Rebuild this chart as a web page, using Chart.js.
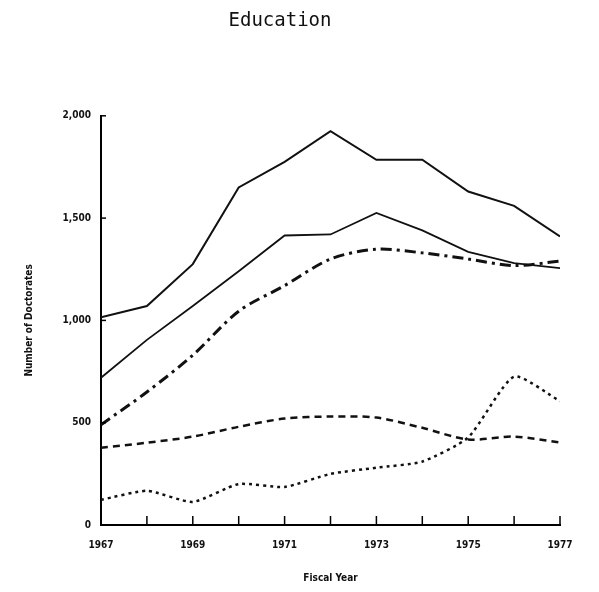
<!DOCTYPE html>
<html>
<head>
<meta charset="utf-8">
<title>Education</title>
<script src="https://cdn.jsdelivr.net/npm/chart.js@4/dist/chart.umd.min.js"></script>
<style>
    html, body { margin: 0; padding: 0; background: #fff; }
    #wrap { width: 599px; height: 592px; }
</style>
</head>
<body>
<div id="wrap"><canvas id="eduChart" width="599" height="592"></canvas></div>
<script>
// Fiscal years on the x axis
const years = [1967, 1968, 1969, 1970, 1971, 1972, 1973, 1974, 1975, 1976, 1977];

// Number of doctorates (one array per line)
const topSolid   = [1015, 1070, 1275, 1650, 1775, 1925, 1785, 1785, 1630, 1560, 1410];
const midSolid   = [720, 905, 1070, 1240, 1415, 1420, 1525, 1440, 1335, 1280, 1255];
const dashDot    = [490, 650, 830, 1045, 1170, 1300, 1348, 1330, 1300, 1268, 1290];
const dashed     = [377, 402, 432, 480, 520, 530, 525, 475, 418, 432, 403];
const dotted     = [123, 167, 113, 200, 186, 250, 280, 310, 428, 725, 605];

// Tick labels
const yTicks = [0, 500, 1000, 1500, 2000];
const xLabelYears = [1967, 1969, 1971, 1973, 1975, 1977];

const labelFont = { family: 'DejaVu Sans Condensed', size: 10, weight: 'bold' };

function toPoints(values) {
    return years.map((y, i) => ({ x: y, y: values[i] }));
}

// Inward tick marks, like the original figure
const innerTicks = {
    id: 'innerTicks',
    afterDatasetsDraw(chart) {
        const ctx = chart.ctx;
        const xs = chart.scales.x;
        const ys = chart.scales.y;
        ctx.save();
        ctx.strokeStyle = '#000';
        ctx.lineWidth = 1.5;
        years.forEach(yr => {
            const px = xs.getPixelForValue(yr);
            ctx.beginPath();
            ctx.moveTo(px, ys.bottom);
            ctx.lineTo(px, ys.bottom - 9);
            ctx.stroke();
        });
        yTicks.forEach(v => {
            const py = ys.getPixelForValue(v);
            ctx.beginPath();
            ctx.moveTo(xs.left, py);
            ctx.lineTo(xs.left + 5, py);
            ctx.stroke();
        });
        ctx.restore();
    }
};

const whiteBg = {
    id: 'whiteBg',
    beforeDraw(chart) {
        const ctx = chart.ctx;
        ctx.save();
        ctx.fillStyle = '#fff';
        ctx.fillRect(0, 0, chart.width, chart.height);
        ctx.restore();
    }
};

function lineSet(values, width, dash, tension) {
    return {
        data: toPoints(values),
        borderColor: '#111',
        borderWidth: width,
        borderDash: dash,
        pointRadius: 0,
        tension: tension,
        fill: false
    };
}

new Chart(document.getElementById('eduChart'), {
    type: 'line',
    data: {
        datasets: [
            lineSet(topSolid, 2, [], 0),
            lineSet(midSolid, 1.8, [], 0),
            lineSet(dashDot, 3, [11, 5, 3, 5], 0.3),
            lineSet(dashed, 2.5, [7, 5], 0.3),
            lineSet(dotted, 2.5, [3, 4], 0.2)
        ]
    },
    options: {
        responsive: false,
        animation: false,
        layout: { padding: { left: 0, right: 39, top: 0, bottom: 0 } },
        plugins: {
            legend: { display: false },
            tooltip: { enabled: false },
            title: {
                display: true,
                text: 'Education',
                color: '#111',
                font: { family: 'DejaVu Sans Mono', size: 19, weight: 'normal' },
                padding: { top: 10, bottom: 83 }
            }
        },
        scales: {
            x: {
                type: 'linear',
                min: 1967,
                max: 1977,
                afterFit(scale) { scale.height = 67; },
                grid: { display: false, drawTicks: false },
                border: { display: true, color: '#000', width: 2 },
                afterBuildTicks(scale) {
                    scale.ticks = xLabelYears.map(v => ({ value: v }));
                },
                ticks: {
                    color: '#111',
                    font: labelFont,
                    padding: 14,
                    maxRotation: 0,
                    autoSkip: false,
                    callback: v => String(v)
                },
                title: {
                    display: true,
                    text: 'Fiscal Year',
                    color: '#111',
                    font: labelFont,
                    padding: { top: 0, bottom: 8 }
                }
            },
            y: {
                min: 0,
                max: 2000,
                afterFit(scale) { scale.width = 101; },
                grid: { display: false, drawTicks: false },
                border: { display: true, color: '#000', width: 2 },
                afterBuildTicks(scale) {
                    scale.ticks = yTicks.map(v => ({ value: v }));
                },
                ticks: {
                    color: '#111',
                    font: labelFont,
                    padding: 10,
                    callback: v => v.toLocaleString('en-US')
                },
                title: {
                    display: true,
                    text: 'Number of Doctorates',
                    color: '#111',
                    font: labelFont,
                    padding: { top: 23, bottom: 0 }
                }
            }
        }
    },
    plugins: [whiteBg, innerTicks]
});
</script>
</body>
</html>
